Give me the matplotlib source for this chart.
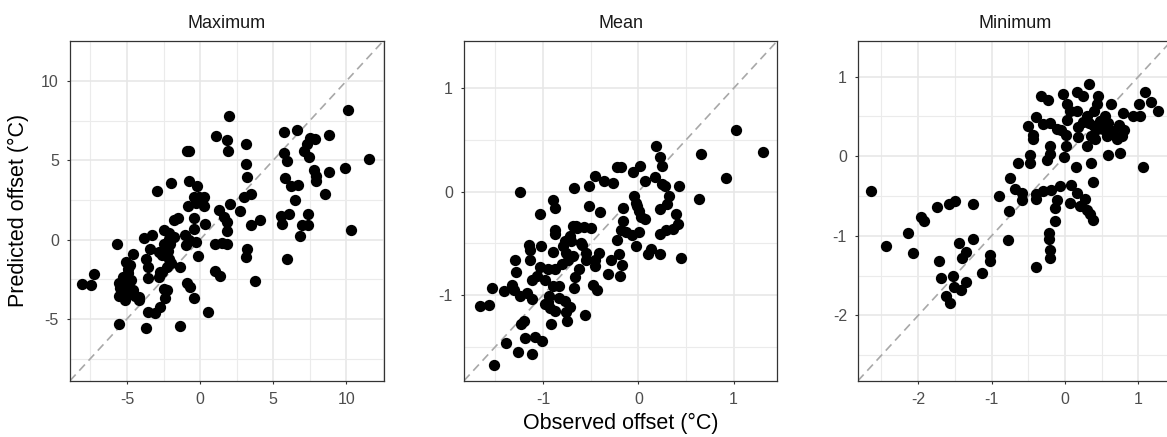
import matplotlib
matplotlib.use("Agg")
import matplotlib.pyplot as plt
from matplotlib.ticker import MultipleLocator

plt.rcParams["font.family"] = ["Liberation Sans", "DejaVu Sans"]
plt.rcParams["axes.unicode_minus"] = False

panel_titles = ["Maximum", "Mean", "Minimum"]

max_obs = [2.0, 10.1, 1.08, 1.84, 1.91, 3.14, -0.9, -0.74, 5.72, 6.66, 7.55, 7.89, 8.8, 7.3,
           7.08, 7.43, 5.72, 5.97, 11.54, 9.9, 3.14, 3.23, 7.78, 7.94, 7.96, 8.8, 5.84, 6.22,
           6.7, 8.55, 6.52, -1.98, -2.96, -0.79, -0.22, -0.45, -0.1, 0.29, -0.83, 0.29, 2.07,
           3.03, 3.5, 2.73, 1.27, 1.65, 1.84, 1.84, 3.46, 4.1, 5.56, 6.06, 5.61, 7.39, 6.98,
           7.39, 6.86, 10.33, 5.97, -1.81, -1.54, -0.4, 0.35, -0.45, -2.5, -2.16, -1.81, -3.87,
           -3.26, -1.02, -0.79, -0.26, -0.95, 1.04, 1.5, 1.84, 3.23, 3.16, -0.15, -5.65, -4.62,
           -5.06, -4.78, -3.71, -3.57, -2.84, -2.5, -2.2, -2.16, -2.27, -2.73, -2.84, -1.34,
           -3.57, 1.04, 1.38, 3.73, -0.9, -0.72, -0.45, 0.53, -1.34, -7.23, -8.05, -7.46, -5.58,
           -5.24, -4.9, -5.58, -5.17, -4.85, -4.44, -4.21, -5.13, -5.47, -2.5, -2.23, -2.39,
           -2.73, -3.07, -3.53, -5.58, -3.71, -4.71, -2.62, -2.05, -2.16, -5.3, -4.95, -4.6,
           -4.15, -3.4, -2.0, -2.6, -0.3]
max_pred = [7.8, 8.2, 6.55, 6.27, 5.56, 6.02, 5.56, 5.56, 6.82, 6.9, 6.4, 6.34, 6.59, 6.02,
            5.6, 5.19, 5.46, 4.98, 5.08, 4.52, 4.77, 3.97, 4.39, 4.04, 3.72, 4.28, 3.89, 3.41,
            3.47, 2.9, 2.47, 3.58, 3.05, 3.68, 3.39, 2.68, 2.68, 2.68, 2.15, 2.11, 2.24, 2.68,
            2.89, 1.8, 1.9, 1.42, 1.11, 0.54, 0.94, 1.21, 1.46, 1.59, 1.0, 1.63, 0.94, 0.9,
            0.21, 0.63, -1.25, 1.21, 1.36, 1.38, 1.0, 0.69, 0.63, 0.42, 0.17, 0.1, 0.27, 0.27,
            -0.04, -0.15, -0.36, -0.3, -0.21, -0.25, -0.56, -1.09, -1.05, -0.3, -0.9, -1.4,
            -1.61, -1.2, -1.72, -0.78, -0.3, -0.72, -1.2, -1.72, -2.03, -2.34, -1.72, -2.45,
            -1.99, -2.28, -2.59, -2.72, -2.97, -3.66, -4.54, -5.44, -2.2, -2.8, -2.89, -2.76,
            -2.34, -2.13, -3.55, -3.8, -3.39, -3.55, -3.8, -2.97, -3.07, -3.14, -3.18, -3.7,
            -4.23, -4.6, -4.54, -5.34, -5.59, -2.55, -2.03, -0.25, 0.06, -3.25, -1.85, -3.2,
            -3.65, -0.6, -1.5, -1.0, 2.3]

mean_obs = [1.02, 1.31, 0.66, 0.92, 0.64, 0.18, 0.23, 0.25, 0.17, 0.07, 0.25, 0.28, 0.43,
            0.32, 0.3, 0.23, 0.39, 0.42, 0.36, 0.29, 0.23, 0.45, 0.23, 0.13, 0.1, -0.02, -0.22,
            -0.18, 0.02, -0.06, -0.45, -0.36, -0.27, -0.68, -0.52, -0.05, -0.02, 0.01, 0.03,
            0.07, -0.16, -0.16, -0.18, -0.13, -0.07, 0.01, -0.22, -1.24, -0.9, -0.87, -1.03,
            -0.52, -0.4, -0.65, -0.57, -0.5, -0.87, -0.87, -0.72, -0.77, -0.71, -0.79, -0.76,
            -0.69, -0.74, -1.15, -1.14, -1.02, -0.9, -0.59, -0.55, -0.55, -0.46, -0.41, -0.45,
            -0.29, -0.2, -0.17, -0.32, -0.19, -0.66, -1.29, -1.28, -1.14, -1.03, -0.95, -0.87,
            -1.12, -1.06, -0.98, -0.9, -0.83, -0.68, -0.48, -0.43, -1.33, -1.41, -1.31, -1.24,
            -1.17, -1.12, -1.54, -1.66, -1.57, -0.94, -0.98, -0.93, -0.87, -0.77, -0.72, -0.76,
            -0.75, -0.92, -0.56, -1.23, -1.2, -1.19, -1.08, -1.01, -1.39, -1.26, -1.12, -1.51,
            -0.01, -0.83, -0.69, -0.64, -0.6, -0.8, -0.62, -0.95]
mean_pred = [0.6, 0.38, 0.36, 0.13, -0.07, 0.44, 0.33, 0.25, 0.14, 0.1, 0.07, 0.05, 0.05,
             -0.04, -0.12, -0.17, -0.22, -0.31, -0.36, -0.37, -0.41, -0.64, -0.6, -0.56, -0.6,
             -0.53, 0.24, 0.24, 0.25, 0.19, 0.15, 0.1, 0.08, 0.03, 0.05, -0.04, -0.11, -0.19,
             -0.25, -0.27, -0.16, -0.28, -0.37, -0.39, -0.42, -0.39, -0.47, 0.0, -0.08, -0.16,
             -0.22, -0.14, -0.2, -0.33, -0.34, -0.35, -0.37, -0.41, -0.43, -0.48, -0.48, -0.53,
             -0.59, -0.62, -0.66, -0.52, -0.57, -0.53, -0.58, -0.52, -0.59, -0.66, -0.66, -0.59,
             -0.72, -0.66, -0.6, -0.71, -0.8, -0.82, -0.83, -0.66, -0.78, -0.66, -0.73, -0.75,
             -0.75, -0.86, -0.82, -0.86, -0.91, -0.91, -0.93, -0.9, -0.95, -0.9, -0.96, -0.95,
             -1.01, -0.98, -1.04, -0.93, -1.11, -1.1, -1.01, -1.09, -1.13, -1.16, -1.06, -1.12,
             -1.17, -1.25, -1.28, -1.19, -1.28, -1.25, -1.42, -1.41, -1.45, -1.47, -1.55, -1.57,
             -1.68, -0.14, -1.03, -0.33, -0.35, -0.5, -0.7, -0.75, -1.07]

min_obs = [-2.64, -2.44, -2.14, -2.07, -1.96, -1.92, -1.75, -1.58, -1.5, -1.26, -1.71, -1.44,
           -1.35, -1.41, -1.26, -1.69, -1.53, -1.51, -1.42, -1.35, -1.62, -1.57, -1.13, -1.02,
           -1.02, -0.78, -0.77, -0.9, -0.75, -0.68, -0.59, -0.58, -0.64, -0.48, -0.48, -0.4,
           -0.39, -0.3, -0.19, -0.07, -0.11, -0.14, -0.14, -0.22, -0.22, -0.2, -0.21, -0.4,
           0.08, 0.07, 0.16, 0.2, 0.27, 0.3, 0.34, 0.38, 0.38, 0.15, 0.36, 0.58, 0.75, 1.06,
           -0.25, -0.2, -0.21, -0.02, 0.01, -0.5, -0.43, -0.43, -0.4, -0.3, -0.21, -0.11, -0.05,
           0.01, -0.33, -0.23, -0.03, 0.03, 0.07, 0.16, 0.02, 0.16, 0.25, 0.32, 0.45, 0.43,
           0.39, 0.3, 0.24, 0.17, 0.17, 0.3, 0.36, 0.44, 0.48, 0.55, 0.62, 0.59, 0.57, 0.65,
           0.73, 0.77, 0.8, 0.79, 0.92, 1.02, 1.01, 1.09, 1.17, 1.27, 0.71, 0.41, 0.32, 0.52,
           0.39]
min_pred = [-0.44, -1.13, -0.97, -1.22, -0.77, -0.81, -0.64, -0.6, -0.56, -0.6, -1.32, -1.09,
            -1.2, -1.28, -1.04, -1.53, -1.5, -1.64, -1.68, -1.58, -1.75, -1.85, -1.47, -1.24,
            -1.32, -1.05, -0.69, -0.5, -0.27, -0.41, -0.46, -0.55, -0.08, 0.01, -0.08, -0.48,
            -0.54, -0.44, -0.42, -0.38, -0.55, -0.65, -0.81, -0.97, -1.04, -1.18, -1.28, -1.39,
            -0.36, -0.59, -0.46, -0.63, -0.54, -0.67, -0.73, -0.8, -0.33, -0.14, -0.08, 0.01,
            0.04, -0.13, -0.05, 0.03, 0.13, -0.01, 0.13, 0.38, 0.27, 0.21, 0.49, 0.4, 0.42,
            0.34, 0.33, 0.27, 0.76, 0.7, 0.78, 0.65, 0.57, 0.57, 0.46, 0.81, 0.75, 0.9, 0.76,
            0.65, 0.57, 0.5, 0.43, 0.37, 0.24, 0.13, 0.25, 0.34, 0.44, 0.5, 0.65, 0.42, 0.25,
            0.31, 0.39, 0.25, 0.33, 0.54, 0.51, 0.51, 0.65, 0.8, 0.68, 0.57, 0.22, 0.21, 0.42,
            0.34, 0.38]

observed = [max_obs, mean_obs, min_obs]
predicted = [max_pred, mean_pred, min_pred]
limits = [(-8.9, 12.55), (-1.83, 1.46), (-2.82, 1.45)]
major_step = [5, 1, 1]

fig = plt.figure(figsize=(11.67, 4.37), dpi=100)
lefts = [70, 464, 858]

for i in range(3):
    ax = fig.add_axes([lefts[i] / 1167, 1 - 380.7 / 437, 313.5 / 1167, 340 / 437])
    lo, hi = limits[i]
    ax.set_xlim(lo, hi)
    ax.set_ylim(lo, hi)
    ax.xaxis.set_major_locator(MultipleLocator(major_step[i]))
    ax.yaxis.set_major_locator(MultipleLocator(major_step[i]))
    ax.xaxis.set_minor_locator(MultipleLocator(major_step[i] / 2))
    ax.yaxis.set_minor_locator(MultipleLocator(major_step[i] / 2))
    ax.grid(which="major", color="#E6E6E6", linewidth=1.1)
    ax.grid(which="minor", color="#EBEBEB", linewidth=0.8)
    ax.set_axisbelow(True)
    ax.axline((0, 0), slope=1, color="#A8A8A8", linewidth=1.2,
              linestyle=(0, (5, 3.2)), zorder=1)
    ax.scatter(observed[i], predicted[i], s=66, color="black", linewidths=0, zorder=3)
    for sp in ax.spines.values():
        sp.set_color("#333333")
        sp.set_linewidth(0.9)
    ax.tick_params(which="major", length=2, width=0.8, color="#333333",
                   labelsize=11.5, labelcolor="#4D4D4D", pad=6)
    ax.tick_params(which="minor", length=0)
    ax.set_title(panel_titles[i], fontsize=13, color="#1A1A1A", pad=9)

fig.text(621 / 1167, 1 - 423 / 437, "Observed offset (°C)", ha="center", va="center",
         fontsize=15.5, color="black")
fig.text(18 / 1167, 1 - 210.7 / 437, "Predicted offset (°C)", ha="center", va="center",
         rotation=90, fontsize=15.5, color="black")

fig.savefig("out.png", dpi=100)
